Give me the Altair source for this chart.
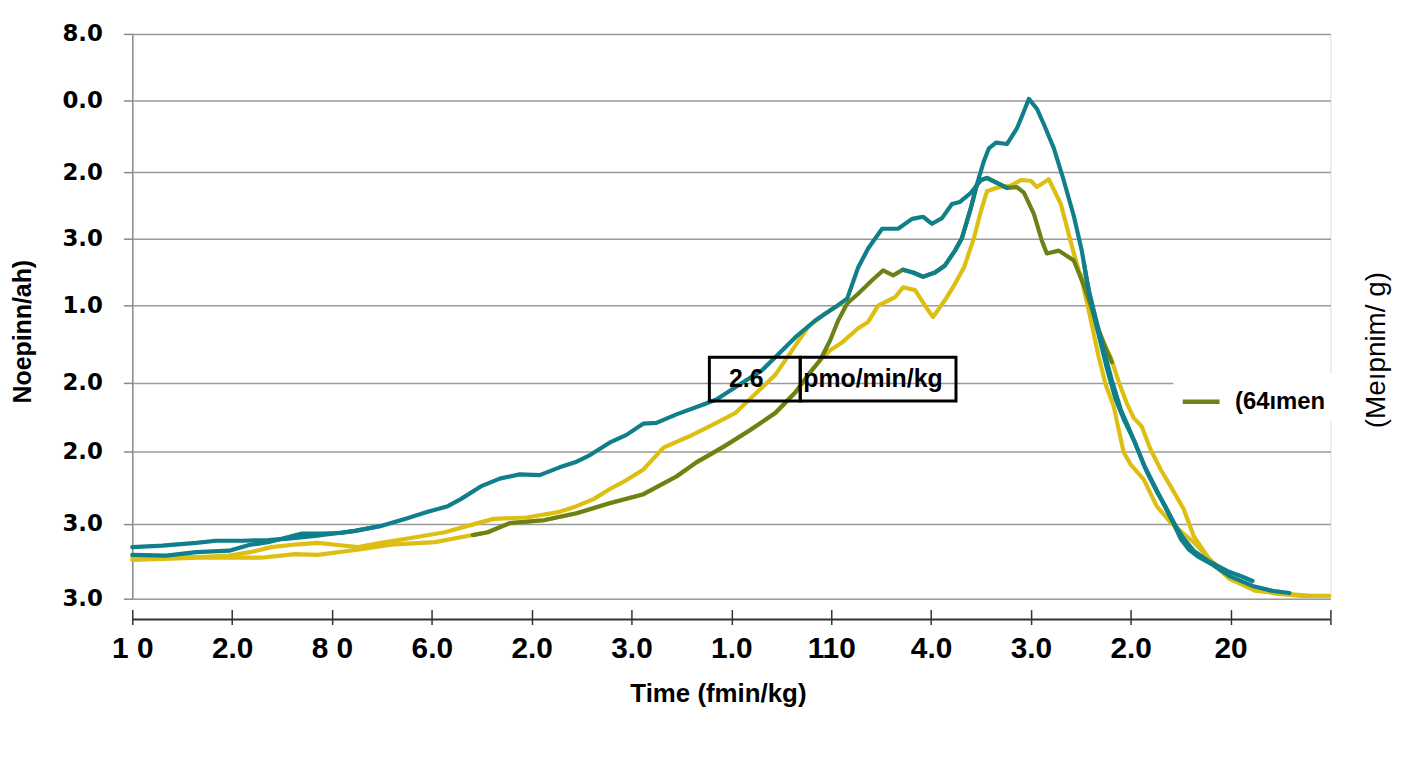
import json
import altair as alt
import pandas as pd

# ---------------- axis ticks / labels ----------------
X_TICKS = list(range(13))
X_LABELS = ["1 0", "2.0", "8 0", "6.0", "2.0", "3.0", "1.0", "110", "4.0", "3.0", "2.0", "20", ""]
Y_TICKS = [0, 1.06, 2.08, 3.06, 4.15, 5.10, 6.04, 7.06, 8.0]
Y_LABELS = ["3.0", "3.0", "2.0", "2.0", "1.0", "3.0", "2.0", "0.0", "8.0"]

# ---------------- series ----------------
TEAL_A_X = [0, 0.30, 0.64, 0.84, 1.10, 1.36, 1.56, 1.83, 2.06, 2.23, 2.49, 2.73, 2.96, 3.16, 3.29,
            3.49, 3.68, 3.88, 4.08, 4.28, 4.45, 4.58, 4.78, 4.95, 5.12, 5.25, 5.45, 5.72, 5.85, 6.11,
            6.31, 6.44, 6.64, 6.84, 7.04, 7.16, 7.27, 7.37, 7.51, 7.67, 7.81, 7.92, 8.01, 8.11, 8.21,
            8.29, 8.40, 8.50, 8.56, 8.66, 8.76]
TEAL_A_Y = [0.73, 0.75, 0.79, 0.82, 0.82, 0.83, 0.85, 0.89, 0.93, 0.96, 1.03, 1.13, 1.23, 1.31, 1.41,
            1.59, 1.70, 1.76, 1.75, 1.86, 1.94, 2.03, 2.21, 2.32, 2.48, 2.49, 2.61, 2.75, 2.82, 3.06,
            3.24, 3.42, 3.70, 3.94, 4.13, 4.25, 4.69, 4.96, 5.24, 5.24, 5.38, 5.41, 5.31, 5.39, 5.59,
            5.62, 5.75, 5.93, 5.96, 5.89, 5.82]

TEAL_EARLY_X = [0, 0.34, 0.64, 0.97, 1.17, 1.36, 1.69, 1.89, 2.09, 2.23, 2.49]
TEAL_EARLY_Y = [0.62, 0.61, 0.66, 0.68, 0.76, 0.80, 0.92, 0.92, 0.93, 0.96, 1.03]

TEAL_PEAK_X = [7.72, 7.82, 7.92, 8.04, 8.14, 8.24, 8.31, 8.40, 8.46, 8.53, 8.58, 8.65, 8.76, 8.86, 8.93,
               8.98, 9.06, 9.13, 9.23, 9.33, 9.43, 9.51, 9.56, 9.61, 9.68, 9.76, 9.85, 9.93, 10.03, 10.13,
               10.23, 10.33, 10.43, 10.50, 10.58, 10.68, 10.82, 10.99, 11.22, 11.42, 11.59]
TEAL_PEAK_Y = [4.66, 4.62, 4.56, 4.62, 4.72, 4.93, 5.11, 5.54, 5.87, 6.20, 6.38, 6.46, 6.44, 6.66, 6.90,
               7.08, 6.94, 6.72, 6.38, 5.92, 5.42, 4.93, 4.51, 4.15, 3.73, 3.27, 2.82, 2.54, 2.25, 1.90,
               1.62, 1.34, 1.06, 0.85, 0.70, 0.59, 0.48, 0.32, 0.18, 0.11, 0.08]

TEAL_C_X = [9.53, 9.58, 9.65, 9.73, 9.81, 9.90, 9.98, 10.08, 10.16, 10.26, 10.35, 10.45, 10.53, 10.63,
            10.77, 10.97, 11.12, 11.22]
TEAL_C_Y = [4.76, 4.37, 3.97, 3.52, 3.10, 2.68, 2.42, 2.08, 1.80, 1.52, 1.30, 1.03, 0.85, 0.68,
            0.54, 0.39, 0.31, 0.25]

YELLOW_1_X = [0, 0.67, 0.97, 1.19, 1.39, 1.66, 1.86, 2.06, 2.26, 2.49, 2.79, 3.13, 3.46, 3.62, 3.95,
              4.28, 4.45, 4.62, 4.78, 4.95, 5.12, 5.32, 5.58, 5.85, 6.04, 6.21, 6.44, 6.61, 6.77, 6.94,
              7.07, 7.16]
YELLOW_1_Y = [0.59, 0.59, 0.61, 0.66, 0.73, 0.77, 0.79, 0.76, 0.73, 0.79, 0.86, 0.94, 1.07, 1.13, 1.15,
              1.23, 1.31, 1.41, 1.55, 1.68, 1.83, 2.14, 2.30, 2.49, 2.63, 2.86, 3.17, 3.52, 3.85, 4.04,
              4.15, 4.25]

YELLOW_2_X = [0, 0.67, 1.29, 1.63, 1.86, 2.29, 2.63, 3.03, 3.29, 3.56, 3.78, 4.12, 4.45, 4.78, 5.12,
              5.45, 5.65, 5.92, 6.17, 6.44, 6.64, 6.77, 6.89, 6.99, 7.11, 7.27, 7.37, 7.47, 7.64, 7.72,
              7.84, 7.94, 8.02, 8.14, 8.24, 8.33, 8.43, 8.50, 8.56, 8.66, 8.80, 8.90, 9.00, 9.06, 9.18,
              9.30, 9.43, 9.51, 9.58, 9.68, 9.75, 9.83, 9.88, 9.93, 10.00, 10.13, 10.26, 10.40, 10.53, 10.63,
              10.82, 10.99, 11.19, 11.45, 11.72, 11.99]
YELLOW_2_Y = [0.55, 0.58, 0.58, 0.63, 0.62, 0.70, 0.77, 0.80, 0.87, 0.94, 1.07, 1.11, 1.21, 1.35, 1.48,
              1.73, 1.93, 2.15, 2.37, 2.63, 2.92, 3.17, 3.38, 3.52, 3.63, 3.83, 3.92, 4.15, 4.27, 4.41,
              4.37, 4.15, 3.99, 4.23, 4.46, 4.69, 5.11, 5.49, 5.77, 5.82, 5.85, 5.93, 5.92, 5.83, 5.94,
              5.59, 4.89, 4.51, 4.08, 3.42, 3.03, 2.72, 2.39, 2.07, 1.90, 1.69, 1.31, 1.08, 0.92, 0.80,
              0.52, 0.31, 0.17, 0.07, 0.04, 0.04]

YELLOW_R_X = [9.51, 9.56, 9.63, 9.71, 9.80, 9.88, 9.96, 10.03, 10.11, 10.20, 10.30, 10.40, 10.53, 10.63,
              10.73, 10.80, 10.99, 11.25, 11.62, 11.79]
YELLOW_R_Y = [4.58, 4.27, 3.94, 3.66, 3.42, 3.07, 2.77, 2.56, 2.44, 2.11, 1.83, 1.59, 1.27, 0.89,
              0.68, 0.52, 0.28, 0.11, 0.06, 0.04]

OLIVE_NAME = "(64ımen"
OLIVE_X = [3.41, 3.56, 3.78, 4.12, 4.45, 4.78, 5.12, 5.45, 5.65, 5.92, 6.17, 6.44, 6.64, 6.77, 6.89,
           6.99, 7.07, 7.16, 7.27, 7.41, 7.52, 7.62, 7.72, 7.82, 7.92, 8.04, 8.14, 8.24, 8.31, 8.40,
           8.46, 8.50, 8.56, 8.66, 8.76, 8.86, 8.93, 9.03, 9.11, 9.16, 9.28, 9.43, 9.53, 9.60, 9.68,
           9.76, 9.81]
OLIVE_Y = [0.90, 0.94, 1.07, 1.11, 1.21, 1.35, 1.48, 1.73, 1.93, 2.15, 2.37, 2.63, 2.92, 3.17, 3.38,
           3.66, 3.94, 4.18, 4.32, 4.51, 4.65, 4.58, 4.66, 4.62, 4.56, 4.62, 4.72, 4.93, 5.11, 5.54,
           5.87, 5.93, 5.96, 5.89, 5.82, 5.83, 5.75, 5.45, 5.07, 4.89, 4.93, 4.79, 4.44, 4.15, 3.80,
           3.52, 3.35]

# annotation box (data units)
BOX_X1 = [5.78, 6.69]
BOX_X2 = [6.69, 8.25]
BOX_Y1 = [3.42, 3.42]
BOX_Y2 = [2.80, 2.80]
ANN_TEXT = ["2.6", "pmo/min/kg"]
ANN_X = [6.15, 6.72]
ANN_Y = [3.11, 3.11]

RIGHT_TITLE = "(Meıpnim/ g)"

TEAL = "#0f7f8b"
YELLOW = "#dcbf12"
OLIVE = "#6b8218"

W, H = 1205, 568
FONT = "Liberation Sans"
LW = 4.2

xscale = alt.Scale(domain=[0, 12], nice=False, zero=False)
yscale = alt.Scale(domain=[0, 8], nice=False, zero=False)

xaxis = alt.Axis(
    values=X_TICKS,
    labelExpr=json.dumps(X_LABELS) + "[datum.value]",
    labelFont=FONT, labelFontSize=30, labelFontWeight="bold", labelColor="black",
    labelPadding=9, labelFlush=False, labelOverlap=False,
    tickSize=15, tickColor="#333333", tickWidth=1.5,
    offset=11, domain=False, grid=False,
    title="Time (fmin/kg)", titleFont=FONT, titleFontSize=26, titleFontWeight="bold",
    titleColor="black", titleX=589, titleY=84, titleBaseline="middle", titleAlign="center",
)
yaxis = alt.Axis(
    values=Y_TICKS,
    labelExpr=json.dumps(Y_LABELS) + "[indexof(" + json.dumps(Y_TICKS) + ", datum.value)]",
    labelFont="DejaVu Sans", labelFontSize=23, labelFontWeight="bold", labelColor="black",
    labelPadding=21, labelFlush=False, labelOverlap=False,
    tickSize=9, tickColor="#8a8a8a", tickWidth=1.5,
    domainColor="#8a8a8a", domainWidth=1.5,
    grid=True, gridColor="#9a9a9a", gridWidth=1.5,
    title="Noepinn/ah)", titleFont=FONT, titleFontSize=25, titleFontWeight="bold",
    titleColor="black", titleX=-110, titleY=299, titleAngle=270,
    titleAlign="center", titleBaseline="middle",
)


def frame(name, xs, ys):
    return pd.DataFrame({"x": xs, "y": ys, "s": name, "i": list(range(len(xs)))})


def line(name, xs, ys, color):
    return alt.Chart(frame(name, xs, ys)).mark_line(
        strokeWidth=LW, color=color, strokeJoin="round", strokeCap="round"
    ).encode(
        x=alt.X("x:Q", scale=xscale, axis=xaxis),
        y=alt.Y("y:Q", scale=yscale, axis=yaxis),
        order="i:Q",
    )


olive = alt.Chart(frame(OLIVE_NAME, OLIVE_X, OLIVE_Y)).mark_line(
    strokeWidth=LW, strokeJoin="round", strokeCap="round"
).encode(
    x=alt.X("x:Q", scale=xscale, axis=xaxis),
    y=alt.Y("y:Q", scale=yscale, axis=yaxis),
    order="i:Q",
    color=alt.Color(
        "s:N",
        scale=alt.Scale(domain=[OLIVE_NAME], range=[OLIVE]),
        legend=alt.Legend(
            title=None, orient="none", legendX=1047, legendY=342,
            symbolType="stroke", symbolSize=1369, symbolStrokeWidth=4.5,
            labelFont=FONT, labelFontSize=24, labelFontWeight="bold", labelColor="black",
            labelOffset=13, fillColor="white", padding=7,
        ),
    ),
)

box_df = pd.DataFrame({"x1": BOX_X1, "x2": BOX_X2, "y1": BOX_Y1, "y2": BOX_Y2})
boxes = alt.Chart(box_df).mark_rect(
    fillOpacity=0, stroke="black", strokeWidth=3
).encode(
    x=alt.X("x1:Q", scale=xscale, axis=xaxis), x2="x2:Q",
    y=alt.Y("y1:Q", scale=yscale, axis=yaxis), y2="y2:Q",
)

ann_df = pd.DataFrame({"t": ANN_TEXT, "x": ANN_X, "y": ANN_Y})
ann_center = alt.Chart(ann_df.iloc[[0]]).mark_text(
    font=FONT, fontSize=25, fontWeight="bold", color="black", align="center", baseline="middle"
).encode(
    x=alt.X("x:Q", scale=xscale, axis=xaxis), y=alt.Y("y:Q", scale=yscale, axis=yaxis), text="t:N"
)
ann_left = alt.Chart(ann_df.iloc[[1]]).mark_text(
    font=FONT, fontSize=25, fontWeight="bold", color="black", align="left", baseline="middle"
).encode(
    x=alt.X("x:Q", scale=xscale, axis=xaxis), y=alt.Y("y:Q", scale=yscale, axis=yaxis), text="t:N"
)

x_domain = alt.Chart(pd.DataFrame({"k": [0]})).mark_rule(
    color="#333333", strokeWidth=2
).encode(x=alt.value(0), x2=alt.value(W), y=alt.value(H + 21))

right_title = alt.Chart(pd.DataFrame({"k": [0]})).mark_text(
    text=RIGHT_TITLE, font=FONT, fontSize=28, fontWeight="normal", color="black",
    angle=270, align="center", baseline="middle"
).encode(x=alt.value(W + 47), y=alt.value(318))

chart = alt.layer(
    line("yellow2", YELLOW_2_X, YELLOW_2_Y, YELLOW),
    line("yellowR", YELLOW_R_X, YELLOW_R_Y, YELLOW),
    olive,
    line("yellow1", YELLOW_1_X, YELLOW_1_Y, YELLOW),
    line("tealA", TEAL_A_X, TEAL_A_Y, TEAL),
    line("tealEarly", TEAL_EARLY_X, TEAL_EARLY_Y, TEAL),
    line("tealPeak", TEAL_PEAK_X, TEAL_PEAK_Y, TEAL),
    line("tealC", TEAL_C_X, TEAL_C_Y, TEAL),
    boxes,
    ann_center,
    ann_left,
    x_domain,
    right_title,
).properties(
    width=W, height=H,
    padding={"left": 125, "top": 24, "right": 70, "bottom": 120},
    autosize=alt.AutoSizeParams(type="none"),
).configure_view(stroke=None).configure(background="white")

chart.save("out.html", embed_options={"renderer": "svg", "actions": False})
